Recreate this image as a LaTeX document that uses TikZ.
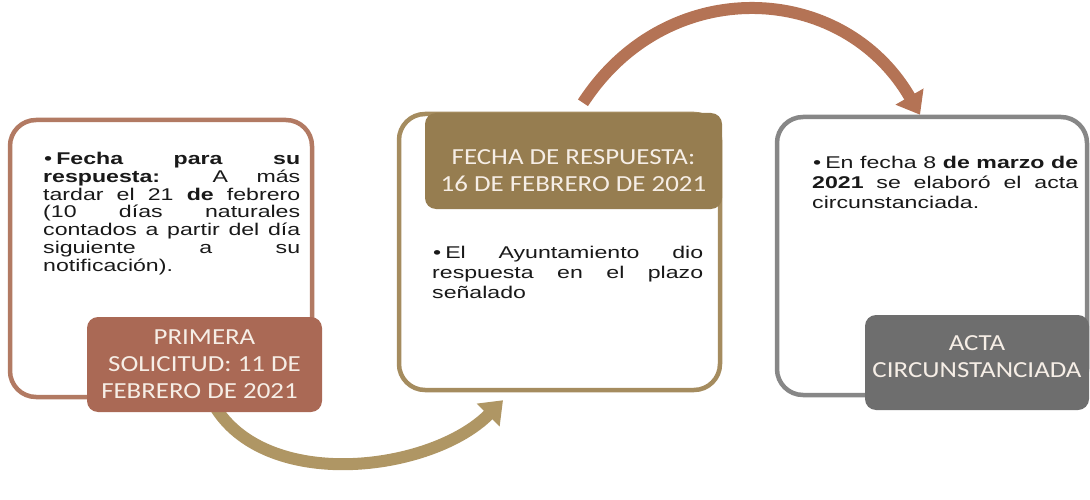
\documentclass[tikz,border=0pt]{standalone}
\usepackage{fontspec}
\newfontfamily\bodyfont[FakeStretch=1.36]{Liberation Sans}
\newfontfamily\labelfont[FakeStretch=1.17]{Carlito}
\usepackage{tikz}
\usetikzlibrary{arrows.meta,backgrounds}
\usepackage{xcolor}
\definecolor{rojizo}{HTML}{AA6955}
\definecolor{rojizoborde}{HTML}{B27A63}
\definecolor{rojizoflecha}{HTML}{B47355}
\definecolor{dorado}{HTML}{967D50}
\definecolor{doradoborde}{HTML}{A58C5F}
\definecolor{doradoflecha}{HTML}{AF9664}
\definecolor{gris}{HTML}{6E6E6E}
\definecolor{grisborde}{HTML}{878787}
\definecolor{crema}{HTML}{F6EEE6}
\tikzset{
  box/.style      = {shape=rectangle, rounded corners=26pt,
                     draw, line width=4.5pt, fill=white, inner sep=0pt,
                     },
  boxlabel/.style = {shape=rectangle, rounded corners=11pt, inner sep=0pt,
                     align=center, text=crema,
                     font=\labelfont\fontsize{23}{27}\selectfont},
  bodytext/.style = {anchor=north west, inner sep=0pt, align=justify,
                     text=black!90,
                     font=\bodyfont\fontsize{17}{17.8}\selectfont},
  flow/.style     = {line width=12pt, -{Triangle[length=21pt,width=31pt]}}
}
\newcommand{\vi}[0]{\noindent\kern1pt•\kern4pt}

\begin{document}
\begin{tikzpicture}
    [
      x = 1pt,
      y = 1pt
    ]
    \useasboundingbox (0,0) rectangle (1090,-500);

    \node [box, draw=rojizoborde, minimum width=302pt, minimum height=277pt]
      (solicitud) at (161,-258.5) {};
    \node [box, draw=doradoborde, minimum width=321pt, minimum height=276pt]
      (respuesta) at (559.5,-252) {};
    \node [box, draw=grisborde, minimum width=310pt, minimum height=278pt]
      (acta) at (932,-256) {};

    \node [boxlabel, fill=rojizo, minimum width=235pt, minimum height=95pt]
      (solicitudlbl) at (204.5,-364.5)
      {PRIMERA\\ SOLICITUD: 11 DE\\ FEBRERO DE 2021\kern10pt};
    \node [boxlabel, fill=dorado, minimum width=297pt, minimum height=96pt]
      (respuestalbl) at (573.5,-161)
      {\rule{0pt}{35pt}FECHA DE RESPUESTA:\\ 16 DE FEBRERO DE 2021};
    \node [boxlabel, fill=gris, minimum width=224pt, minimum height=95pt]
      (actalbl) at (977,-362.5)
      {ACTA\\ CIRCUNSTANCIADA\rule[-12pt]{0pt}{12pt}};

    \node [bodytext, text width=257pt] (solicitudtxt) at (43,-152)
      {\vi\textbf{Fecha para su}\linebreak
       \textbf{respuesta:} A más\linebreak
       tardar el 21 \textbf{de} febrero\linebreak
       (10 días naturales\linebreak
       contados a partir del día\linebreak
       siguiente a su\linebreak
       notificación).};
    \node [bodytext, text width=271pt, font=\bodyfont\fontsize{17}{20}\selectfont]
      (respuestatxt) at (432,-246)
      {\vi El Ayuntamiento dio\linebreak
       respuesta en el plazo\linebreak
       señalado};
    \node [bodytext, text width=266pt, font=\bodyfont\fontsize{17}{20}\selectfont]
      (actatxt) at (812,-155.5)
      {\vi En fecha 8 \textbf{de marzo de}\linebreak
       \textbf{2021} se elaboró el acta\linebreak
       circunstanciada.};

    \begin{scope}[on background layer]
      \draw [flow, doradoflecha] ([xshift=9pt,yshift=8pt]solicitudlbl.south)
        to [out=-60, in=-135, looseness=0.9] ([xshift=-56.5pt,yshift=-8pt]respuesta.south);
      \draw [flow, rojizoflecha] ([xshift=9.5pt,yshift=10pt]respuestalbl.north)
        to [out=57, in=120, looseness=1.17] ([xshift=-12pt]acta.north);
    \end{scope}
\end{tikzpicture}
\end{document}
